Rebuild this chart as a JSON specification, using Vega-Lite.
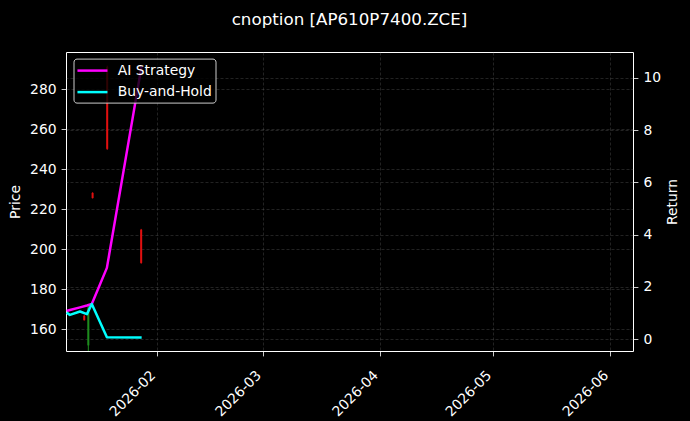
{
  "$schema": "https://vega.github.io/schema/vega-lite/v6.json",
  "width": 567,
  "height": 299,
  "autosize": {"type": "none"},
  "padding": {"left": 66, "top": 52, "right": 57, "bottom": 70},
  "background": "black",
  "view": {"stroke": "white", "strokeWidth": 1},
  "config": {"font": "DejaVu Sans"},
  "title": {"text": "cnoption [AP610P7400.ZCE]", "fontSize": 16.7, "fontWeight": "normal", "color": "white", "anchor": "middle", "offset": 10, "baseline": "alphabetic"},
  "datasets": {
    "candles": [
      {"date": "2026-01-12T17:00", "open": 166.8, "high": 167.2, "low": 164.4, "close": 164.6},
      {"date": "2026-01-13T19:00", "open": 152, "high": 172.1, "low": 147, "close": 171},
      {"date": "2026-01-14T22:00", "open": 228.2, "high": 228.5, "low": 225.4, "close": 225.6},
      {"date": "2026-01-18T19:00", "open": 291, "high": 291.8, "low": 249.7, "close": 250.2},
      {"date": "2026-01-27T19:00", "open": 209.8, "high": 210.2, "low": 192.8, "close": 193.2}
    ],
    "returns": [
      {"date": "2026-01-08T01:00", "series": "AI Strategy", "value": 1.08},
      {"date": "2026-01-08T22:00", "series": "AI Strategy", "value": 1.12},
      {"date": "2026-01-11T14:00", "series": "AI Strategy", "value": 1.22},
      {"date": "2026-01-13T10:00", "series": "AI Strategy", "value": 1.29},
      {"date": "2026-01-14T17:00", "series": "AI Strategy", "value": 1.35},
      {"date": "2026-01-18T17:00", "series": "AI Strategy", "value": 2.73},
      {"date": "2026-01-27T22:00", "series": "AI Strategy", "value": 10.47},
      {"date": "2026-01-08T01:00", "series": "Buy-and-Hold", "value": 1.02},
      {"date": "2026-01-08T22:00", "series": "Buy-and-Hold", "value": 0.93},
      {"date": "2026-01-11T14:00", "series": "Buy-and-Hold", "value": 1.06},
      {"date": "2026-01-13T10:00", "series": "Buy-and-Hold", "value": 0.96},
      {"date": "2026-01-14T17:00", "series": "Buy-and-Hold", "value": 1.35},
      {"date": "2026-01-18T17:00", "series": "Buy-and-Hold", "value": 0.08},
      {"date": "2026-01-27T22:00", "series": "Buy-and-Hold", "value": 0.07}
    ]
  },
  "layer": [
    {
      "data": {"name": "candles"},
      "encoding": {
        "x": {
          "field": "date", "type": "temporal",
          "scale": {"domain": [{"year": 2026, "month": 1, "date": 7, "hours": 21}, {"year": 2026, "month": 6, "date": 7, "hours": 2}]},
          "axis": {
            "title": null,
            "values": [{"year": 2026, "month": 2, "date": 1}, {"year": 2026, "month": 3, "date": 1}, {"year": 2026, "month": 4, "date": 1}, {"year": 2026, "month": 5, "date": 1}, {"year": 2026, "month": 6, "date": 1}],
            "format": "%Y-%m", "labelAngle": -45, "labelAlign": "right", "labelBaseline": "top",
            "labelColor": "white", "labelFontSize": 13.9, "labelPadding": 12, "labelOffset": -9, "labelFlush": false, "labelOverlap": false,
            "tickColor": "white", "tickSize": 4.9, "tickWidth": 0.8, "domain": false,
            "grid": true, "gridColor": "#808080", "gridOpacity": 0.45, "gridDash": [3, 2], "gridWidth": 0.6
          }
        }
      },
      "layer": [
        {
          "mark": {"type": "rule", "strokeWidth": 1, "clip": true},
          "encoding": {
            "y": {
              "field": "low", "type": "quantitative", "title": "Price",
              "scale": {"domain": [149.2, 298.6], "nice": false, "zero": false},
              "axis": {
                "title": "Price", "orient": "left", "values": [160, 180, 200, 220, 240, 260, 280],
                "labelColor": "white", "labelFontSize": 13.9, "labelPadding": 5,
                "tickColor": "white", "tickSize": 4.9, "tickWidth": 0.8, "domain": false,
                "titleColor": "white", "titleFontSize": 13.9, "titleFontWeight": "normal", "titlePadding": 7,
                "grid": true, "gridColor": "#808080", "gridOpacity": 0.45, "gridDash": [3, 2], "gridWidth": 0.6
              }
            },
            "y2": {"field": "high"},
            "color": {"condition": {"test": "datum.close < datum.open", "value": "#e01010"}, "value": "#1e8c1e"}
          }
        },
        {
          "mark": {"type": "rule", "strokeWidth": 2, "clip": true},
          "encoding": {
            "y": {"field": "open", "type": "quantitative", "title": "Price"},
            "y2": {"field": "close"},
            "color": {"condition": {"test": "datum.close < datum.open", "value": "#e01010"}, "value": "#1e8c1e"}
          }
        }
      ]
    },
    {
      "data": {"name": "returns"},
      "mark": {"type": "line", "strokeWidth": 2.5, "clip": true, "strokeJoin": "round"},
      "encoding": {
        "x": {"field": "date", "type": "temporal"},
        "y": {
          "field": "value", "type": "quantitative",
          "scale": {"domain": [-0.45, 10.99], "nice": false, "zero": false},
          "axis": {
            "title": "Return", "orient": "right", "values": [0, 2, 4, 6, 8, 10],
            "labelColor": "white", "labelFontSize": 13.9, "labelPadding": 5,
            "tickColor": "white", "tickSize": 4.9, "tickWidth": 0.8, "domain": false,
            "titleColor": "white", "titleFontSize": 13.9, "titleFontWeight": "normal", "titlePadding": 19, "titleAngle": 270,
            "grid": true, "gridColor": "#808080", "gridOpacity": 0.45, "gridDash": [3, 2], "gridWidth": 0.6
          }
        },
        "color": {
          "field": "series", "type": "nominal",
          "scale": {"domain": ["AI Strategy", "Buy-and-Hold"], "range": ["#ff00ff", "#00ffff"]},
          "legend": {
            "title": null, "orient": "none", "legendX": 7.5, "legendY": 6.6,
            "fillColor": "rgba(0,0,0,0.8)", "strokeColor": "#cccccc", "cornerRadius": 3, "padding": 3.5,
            "labelColor": "white", "labelFontSize": 13.9, "labelOffset": 23.7,
            "symbolType": "M-1.15,0L3.136,0", "symbolSize": 196, "symbolStrokeWidth": 2.5, "rowPadding": 5.5
          }
        }
      }
    }
  ],
  "resolve": {"scale": {"y": "independent"}}
}
